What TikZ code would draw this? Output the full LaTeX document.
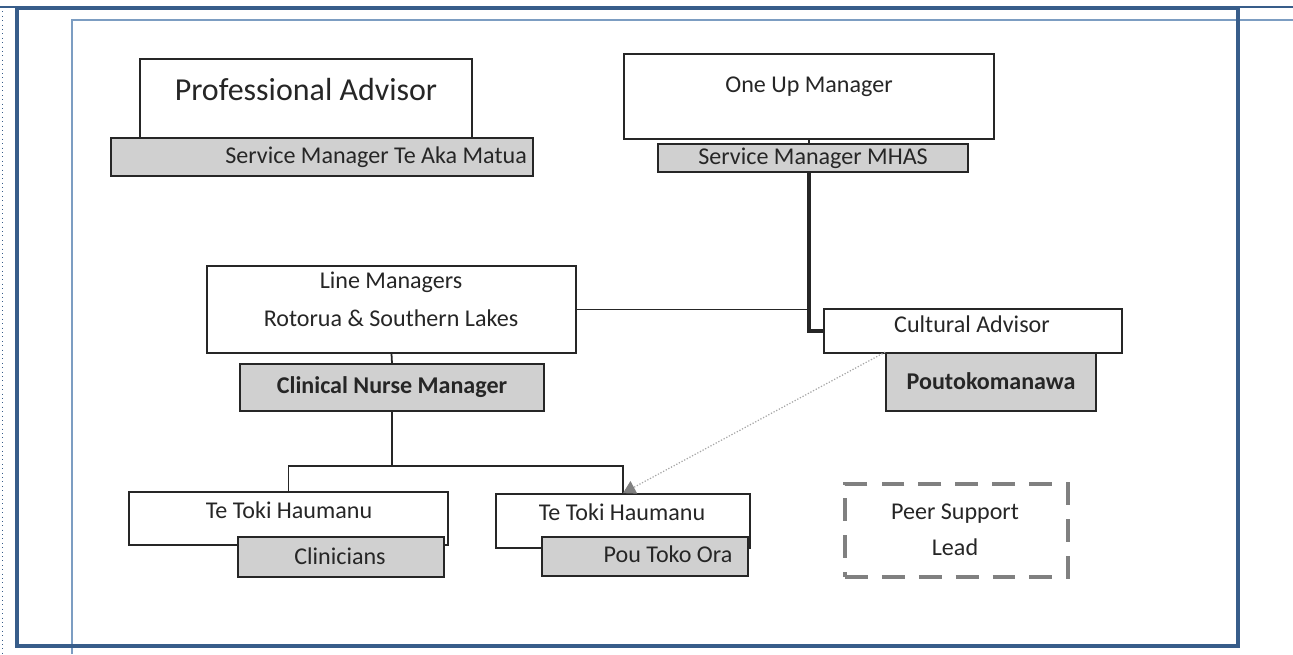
\documentclass[tikz,border=0pt]{standalone}
\usepackage{fontspec}
\setmainfont{Carlito}
\usetikzlibrary{fit,arrows.meta}

\definecolor{frameblue}{HTML}{385D8A}
\definecolor{lightframe}{HTML}{7C9DC2}
\definecolor{boxgrey}{HTML}{D0D0D0}
\definecolor{edgegrey}{HTML}{262626}

\begin{document}
\begin{tikzpicture}[x=0.02cm, y=-0.02cm,
    whitebox/.style = {draw=edgegrey, line width=1pt, fill=white, inner sep=0pt},
    greybox/.style = {whitebox, fill=boxgrey},
    peerbox/.style = {draw=gray, line width=2.3pt, dash pattern=on 13pt off 8pt, inner sep=0pt},
    txt/.style = {inner sep=0pt, text=edgegrey, font=\fontsize{13.7}{16}\selectfont},
    conn/.style = {draw=edgegrey, line width=1pt}]
  \useasboundingbox (0,0) rectangle (1293,654);

  % page frames
  \draw[frameblue, line width=0.6pt] (0,7) -- (1293,7);
  \draw[frameblue, line width=0.5pt, dotted] (2,7) -- (2,654);
  \draw[lightframe, line width=1.1pt] (72,654) -- (72,20) -- (1293,20);
  \draw[frameblue, line width=2.8pt] (17,8) rectangle (1238,646);

  % boxes
  \node[whitebox, fit={(140,59) (472,138)}] (pa) {};
  \node[greybox, fit={(111,138) (533,176)}] (smt) {};
  \node[whitebox, fit={(624,54) (994,139)}] (oum) {};
  \node[greybox, fit={(658,144) (968,172)}] (msm) {};
  \node[whitebox, fit={(207,266) (576,353)}] (lm) {};
  \node[greybox, fit={(240,364) (544,411)}] (cnm) {};
  \node[whitebox, fit={(824,309) (1122,353)}] (ca) {};
  \node[greybox, fit={(886,353) (1096,411)}] (pk) {};
  \node[whitebox, fit={(129,492) (448,545)}] (tt1) {};
  \node[greybox, fit={(238,537) (444,577)}] (cl) {};
  \node[whitebox, fit={(496,494) (750,548)}] (tt2) {};
  \node[greybox, fit={(542,537) (748,576)}] (pto) {};
  \node[peerbox, fit={(845,484) (1068,577)}] (psl) {};

  % texts
  \node[txt, font=\fontsize{18.2}{21}\selectfont] at (306,90) {Professional Advisor};
  \node[txt] at (376,157) {Service Manager Te Aka Matua};
  \node[txt] at (809,87) {One Up Manager};
  \node[txt] at (813,158) {Service Manager MHAS};
  \node[txt] at (391,282) {Line Managers};
  \node[txt] at (391,318) {Rotorua \& Southern Lakes};
  \node[txt, font=\fontsize{13.7}{16}\selectfont\bfseries] at (392,387) {Clinical Nurse Manager};
  \node[txt] at (972,324) {Cultural Advisor};
  \node[txt, font=\fontsize{13.7}{16}\selectfont\bfseries] at (991,381) {Poutokomanawa};
  \node[txt] at (289,510) {Te Toki Haumanu};
  \node[txt] at (340,556) {Clinicians};
  \node[txt] at (622,512) {Te Toki Haumanu};
  \node[txt] at (668,554) {Pou Toko Ora};
  \node[txt] at (955,514) {Peer Support};
  \node[txt] at (955,547) {Lead};

  % connectors
  \coordinate (split) at (392,466);
  \draw[conn] (oum.south) -- (oum.south |- msm.north);
  \draw[conn, line width=2pt] (oum.south |- msm.south) |- (ca.west);
  \draw[conn] (lm.east) -- (lm.east -| oum.south);
  \draw[conn] (lm.south) -- (cnm.north);
  \draw[conn] (cnm.south) -- (split);
  \draw[conn] (split) -| (tt1.north);
  \draw[conn] (split) -| (tt2.north);
  \draw[gray!70, line width=0.7pt, densely dotted,
    -{Triangle[length=7pt,width=8pt,color=gray]}] (pk.north west) -- (tt2.north);
\end{tikzpicture}
\end{document}
